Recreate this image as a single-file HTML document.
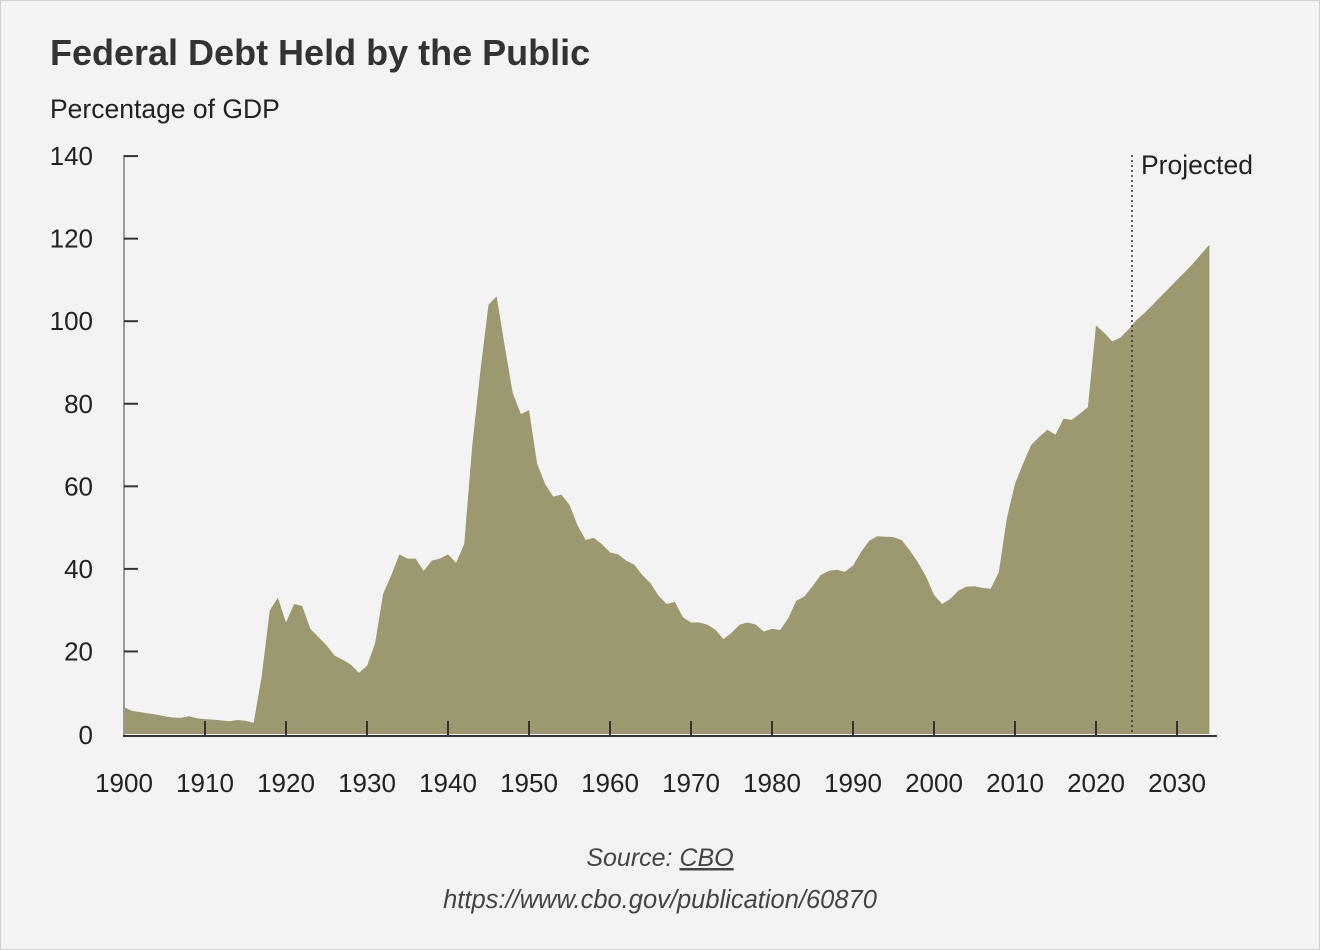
<!DOCTYPE html>
<html><head><meta charset="utf-8"><style>
html,body{margin:0;padding:0;}
body{width:1320px;height:950px;background:#f3f3f3;position:relative;overflow:hidden;font-family:"Liberation Sans",sans-serif;color:#333;}
.frame{position:absolute;left:0;top:0;width:1318px;height:948px;border:1px solid #d0d0d0;}
</style></head><body>
<div class="frame"></div>
<svg width="1320" height="950" style="position:absolute;left:0;top:0">
<text x="50" y="65" font-size="36" font-weight="bold" fill="#333">Federal Debt Held by the Public</text>
<text x="50" y="118" font-size="26.5" fill="#222">Percentage of GDP</text>
<g font-size="26" fill="#222" text-anchor="end" id="yl"></g>
<g font-size="26" fill="#222" text-anchor="middle" id="xl"></g>
<path id="area" fill="#9c986f"/>
<line x1="124" y1="155" x2="124" y2="736" stroke="#999" stroke-width="2"/>
<line x1="123" y1="736" x2="1217" y2="736" stroke="#333" stroke-width="2"/>
<g id="ticks" stroke="#333" stroke-width="2"></g>
<line x1="1132" y1="155" x2="1132" y2="733" stroke="#333" stroke-width="1.5" stroke-dasharray="2,3"/>
<text x="1141" y="174" font-size="26.5" fill="#222">Projected</text>
<text x="660" y="866" font-size="25" font-style="italic" fill="#444" text-anchor="middle">Source: <tspan text-decoration="underline">CBO</tspan></text>
<text x="660" y="908" font-size="25.5" font-style="italic" fill="#444" text-anchor="middle">https://www.cbo.gov/publication/60870</text>
</svg>
<script>
var d=[6.5,5.6,5.3,5,4.7,4.3,4,3.9,4.3,3.8,3.6,3.5,3.3,3.1,3.4,3.2,2.7,14,30,33,27,31.5,31,25.5,23.5,21.5,19,18,16.8,14.8,16.5,22,34,38.5,43.5,42.5,42.5,39.5,42,42.5,43.5,41.5,46,70,88,104,106,94,82.5,77.5,78.5,65.5,60.5,57.5,58,55.5,50.5,47,47.5,46,44,43.5,42,41,38.5,36.5,33.5,31.5,32,28.3,27,27,26.5,25.3,23,24.5,26.5,27,26.5,24.8,25.5,25.2,28,32.3,33.3,35.8,38.5,39.5,39.8,39.3,40.8,44.1,46.8,47.9,47.8,47.7,47,44.5,41.6,38.2,33.7,31.5,32.7,34.7,35.7,35.8,35.4,35.2,39.2,52.3,60.6,65.5,70,72,73.7,72.5,76.4,76.1,77.6,79.2,99,97.2,95.1,96,98,100.3,102,104,106,108,110,112,114,116.3,118.5];
var X=function(y){return 124+(y-1900)*8.1},Y=function(v){return 734-v*4.128};
var p="M124,734";d.forEach(function(v,i){p+=" L"+X(1900+i).toFixed(1)+","+Y(v).toFixed(1)});
p+=" L"+X(1900+d.length-1).toFixed(1)+",734 Z";
document.getElementById('area').setAttribute('d',p);
var ns="http://www.w3.org/2000/svg",t=document.getElementById('ticks'),yl=document.getElementById('yl'),xl=document.getElementById('xl');
for(var v=0;v<=140;v+=20){var y=Y(v);if(v>0){var l=document.createElementNS(ns,'line');l.setAttribute('x1',124);l.setAttribute('x2',138);l.setAttribute('y1',y);l.setAttribute('y2',y);t.appendChild(l);}
var tx=document.createElementNS(ns,'text');tx.setAttribute('x',93);tx.setAttribute('y',(v==0?744:y+9));tx.textContent=v;yl.appendChild(tx);}
for(var yr=1900;yr<=2030;yr+=10){var x=X(yr);if(yr>1900){var l=document.createElementNS(ns,'line');l.setAttribute('x1',x);l.setAttribute('x2',x);l.setAttribute('y1',721);l.setAttribute('y2',736);t.appendChild(l);}
var tx=document.createElementNS(ns,'text');tx.setAttribute('x',x);tx.setAttribute('y',792);tx.textContent=yr;xl.appendChild(tx);}
</script>
</body></html>
